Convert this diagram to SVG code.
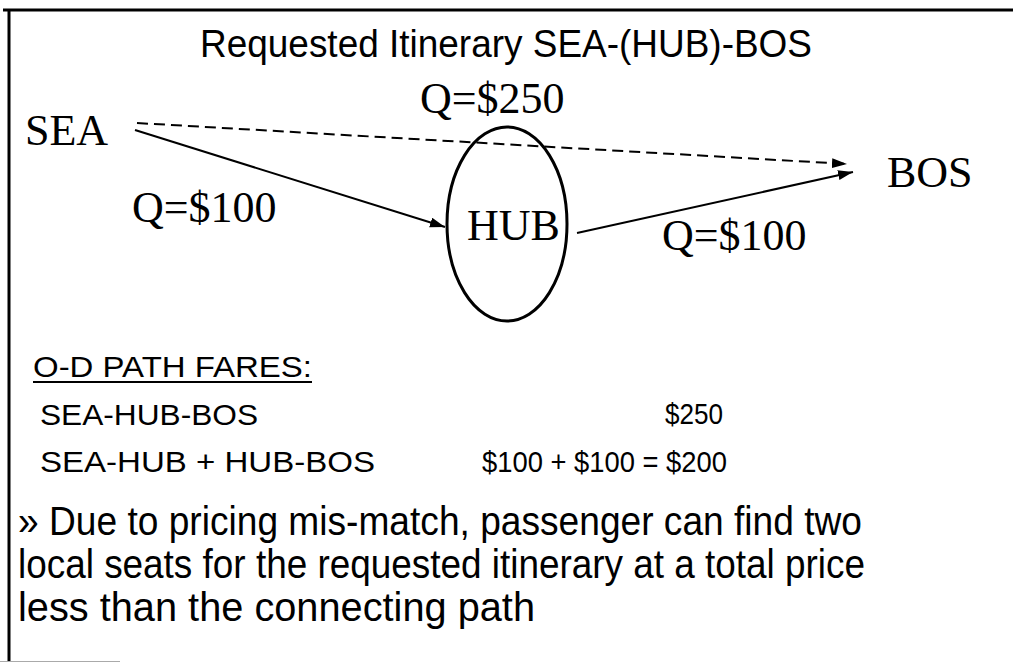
<svg xmlns="http://www.w3.org/2000/svg" width="1013" height="664" viewBox="0 0 1013 664">
<style>
.serif{font-family:"Liberation Serif","Times New Roman",serif;font-size:44px;fill:#000}
.sans{font-family:"Liberation Sans",Arial,sans-serif;fill:#000}
.edge{stroke:#000;stroke-width:2;fill:none}
.dash{stroke-dasharray:11 6}
.frame{stroke:#000;stroke-width:3;fill:none}
</style>
<defs>
<marker id="arr" markerUnits="userSpaceOnUse" markerWidth="16" markerHeight="12" refX="15" refY="5" orient="auto">
<path d="M0,0 L15,5 L0,10 z" fill="#000"/>
</marker>
</defs>
<rect width="1013" height="664" fill="#fff"/>
<g id="frame">
<line class="frame" x1="3" y1="10" x2="1013" y2="10"/>
<line class="frame" x1="9" y1="10" x2="9" y2="662"/>
<line x1="0" y1="661.5" x2="120" y2="661.5" stroke="#aaa" stroke-width="1"/>
</g>
<text id="title" class="sans" x="200" y="57" font-size="38" textLength="612" lengthAdjust="spacingAndGlyphs">Requested Itinerary SEA-(HUB)-BOS</text>
<g id="connectors">
<line class="edge dash" x1="137" y1="123" x2="847" y2="164" marker-end="url(#arr)"/>
<line class="edge" x1="135" y1="130" x2="445" y2="227" marker-end="url(#arr)"/>
<line class="edge" x1="577" y1="233" x2="853" y2="172" marker-end="url(#arr)"/>
<text class="serif" x="420" y="113">Q=$250</text>
<text class="serif" x="132" y="222">Q=$100</text>
<text class="serif" x="662" y="250">Q=$100</text>
</g>
<g id="node-sea"><text class="serif" x="25" y="145">SEA</text></g>
<g id="node-hub">
<ellipse cx="507" cy="224" rx="60" ry="97" fill="none" stroke="#000" stroke-width="3"/>
<text class="serif" x="467" y="240" font-size="42">HUB</text>
</g>
<g id="node-bos"><text class="serif" x="887" y="187">BOS</text></g>
<g id="fares" class="sans" font-size="30">
<text x="33" y="377" textLength="279" lengthAdjust="spacingAndGlyphs">O-D PATH FARES:</text>
<line x1="33" y1="382" x2="312" y2="382" stroke="#000" stroke-width="2"/>
<text x="40" y="425" textLength="218" lengthAdjust="spacingAndGlyphs">SEA-HUB-BOS</text>
<text x="665" y="424" textLength="58" lengthAdjust="spacingAndGlyphs">$250</text>
<text x="40" y="472" textLength="335" lengthAdjust="spacingAndGlyphs">SEA-HUB + HUB-BOS</text>
<text x="482" y="472" textLength="245" lengthAdjust="spacingAndGlyphs">$100 + $100 = $200</text>
</g>
<g id="note" class="sans" font-size="40">
<text x="18" y="535" textLength="844" lengthAdjust="spacingAndGlyphs">» Due to pricing mis-match, passenger can find two</text>
<text x="18" y="578" textLength="847" lengthAdjust="spacingAndGlyphs">local seats for the requested itinerary at a total price</text>
<text x="18" y="621" textLength="517" lengthAdjust="spacingAndGlyphs">less than the connecting path</text>
</g>
</svg>
